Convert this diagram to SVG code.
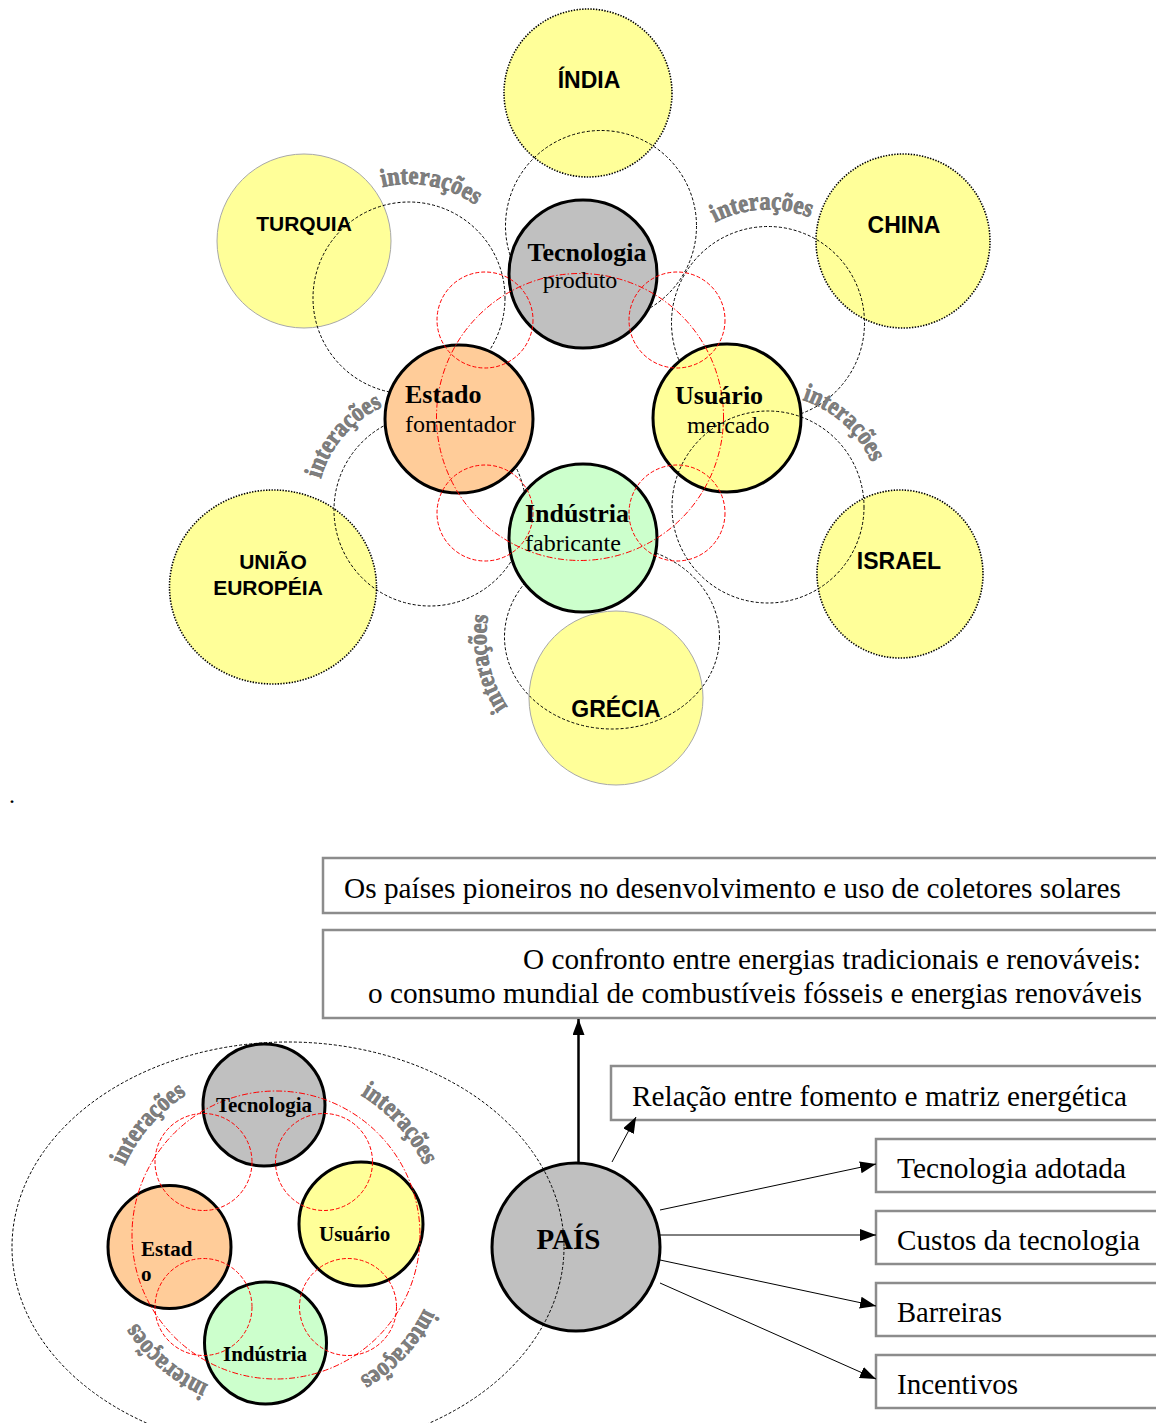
<svg xmlns="http://www.w3.org/2000/svg" width="1156" height="1423" viewBox="0 0 1156 1423">
<style>
.yc{fill:#FFFF99}
.dotb{stroke:#000;stroke-width:1.6;stroke-dasharray:1.4 1.4}
.thin{stroke:#a8a8a8;stroke-width:1}
.dash{fill:none;stroke:#000;stroke-width:1;stroke-dasharray:3 2}
.rd{fill:none;stroke:#ff0000;stroke-width:1;stroke-dasharray:4 2}
.rdd{fill:none;stroke:#ff0000;stroke-width:1;stroke-dasharray:6 2 1.5 2}
.main{stroke:#000;stroke-width:3}
.inter{font-family:"Liberation Serif",serif;font-weight:bold;font-size:26px;fill:#808080;stroke:#6e6e6e;stroke-width:0.7}
.cl{font-family:"Liberation Sans",Arial,sans-serif;font-weight:bold;text-anchor:middle;fill:#000}
.nb{font-family:"Liberation Serif",serif;font-weight:bold;font-size:26px;fill:#000}
.nr{font-family:"Liberation Serif",serif;font-size:24px;fill:#000}
.sb{font-family:"Liberation Serif",serif;font-weight:bold;font-size:21px;fill:#000}
.box{fill:#fff;stroke:#8c8c8c;stroke-width:2.5}
.bt{font-family:"Liberation Serif",serif;font-size:29px;fill:#000}
.con{stroke:#000;stroke-width:1;fill:none}
</style>
<defs>
<marker id="arr" viewBox="0 0 16 12" refX="16" refY="6" markerWidth="16" markerHeight="12" markerUnits="userSpaceOnUse" orient="auto">
<path d="M0,0 L16,6 L0,12 z" fill="#000"/>
</marker>
<path id="p1" d="M323.8,223.0 A113.5,113.5 0 0 1 516.6,260.0"/>
<path id="p2" d="M666.8,271.5 A113.5,113.5 0 0 1 863.2,261.2"/>
<path id="p3" d="M733.6,400.0 A112.5,112.5 0 0 1 878.0,530.8"/>
<path id="p4" d="M322.9,547.7 A113.5,113.5 0 0 1 450.9,398.4"/>
<path id="p5" d="M573.3,756.4 A125.5,125.5 0 0 1 528.0,543.7"/>
<path id="q1" d="M111.6,1261.1 A166.5,166.5 0 0 1 278.9,1068.5"/>
<path id="q2" d="M242.0,1075.1 A163.5,163.5 0 0 1 431.5,1285.5"/>
<path id="q3" d="M434.3,1186.6 A165.5,165.5 0 0 1 238.8,1396.3"/>
<path id="q4" d="M329.5,1390.6 A164.5,164.5 0 0 1 114.5,1203.6"/>
</defs>
<rect width="1156" height="1423" fill="#fff"/>

<!-- top diagram: countries -->
<g id="india"><ellipse class="yc dotb" cx="588" cy="93" rx="84" ry="84"/></g>
<g id="turquia"><ellipse class="yc thin" cx="304" cy="241" rx="87" ry="87"/></g>
<g id="china"><ellipse class="yc dotb" cx="903" cy="241" rx="87" ry="87"/></g>
<g id="uniao-europeia"><ellipse class="yc dotb" cx="273" cy="587" rx="103.5" ry="97"/></g>
<g id="israel"><ellipse class="yc dotb" cx="900" cy="574" rx="83" ry="84"/></g>
<g id="grecia"><ellipse class="yc thin" cx="616" cy="698" rx="87" ry="87"/></g>

<g id="interaction-rings">
<circle class="dash" cx="601" cy="226" r="95.5"/>
<circle class="dash" cx="409" cy="298" r="96"/>
<circle class="dash" cx="768" cy="323" r="96.5"/>
<circle class="dash" cx="430" cy="510" r="96"/>
<ellipse class="dash" cx="612" cy="637" rx="107.5" ry="92"/>
</g>

<g id="tecnologia"><circle class="main" cx="583" cy="274" r="74" fill="#C0C0C0"/></g>
<g id="estado"><circle class="main" cx="459" cy="419" r="74" fill="#FFCC99"/></g>
<g id="usuario"><circle class="main" cx="727" cy="418" r="74" fill="#FFFF99"/></g>
<g id="industria"><circle class="main" cx="583" cy="538" r="74" fill="#CCFFCC"/></g>
<g id="ring-israel"><circle class="dash" cx="768" cy="507" r="96"/></g>

<g id="red-rings-top">
<circle class="rd" cx="485" cy="320" r="48"/>
<circle class="rd" cx="677" cy="320" r="48"/>
<circle class="rd" cx="485" cy="513" r="48"/>
<circle class="rd" cx="677" cy="513" r="48"/>
<circle class="rdd" cx="580" cy="417" r="143.5"/>
</g>

<g id="top-labels">
<text class="cl" x="589" y="88" font-size="23">ÍNDIA</text>
<text class="cl" x="304" y="231" font-size="21">TURQUIA</text>
<text class="cl" x="904" y="233" font-size="23">CHINA</text>
<text class="cl" x="273" y="569" font-size="21">UNIÃO</text>
<text class="cl" x="268" y="595" font-size="21">EUROPÉIA</text>
<text class="cl" x="899" y="569" font-size="23">ISRAEL</text>
<text class="cl" x="616" y="717" font-size="23">GRÉCIA</text>
<text class="nb" x="587" y="261" text-anchor="middle">Tecnologia</text>
<text class="nr" x="580" y="288" text-anchor="middle">produto</text>
<text class="nb" x="405" y="403">Estado</text>
<text class="nr" x="405" y="432">fomentador</text>
<text class="nb" x="675" y="404">Usuário</text>
<text class="nr" x="687" y="433">mercado</text>
<text class="nb" x="525" y="522">Indústria</text>
<text class="nr" x="525" y="551">fabricante</text>
</g>

<g id="top-interacoes">
<text class="inter"><textPath href="#p1" startOffset="50%" text-anchor="middle" textLength="98" lengthAdjust="spacingAndGlyphs">interações</textPath></text>
<text class="inter"><textPath href="#p2" startOffset="50%" text-anchor="middle" textLength="98" lengthAdjust="spacingAndGlyphs">interações</textPath></text>
<text class="inter"><textPath href="#p3" startOffset="50%" text-anchor="middle" textLength="96" lengthAdjust="spacingAndGlyphs">interações</textPath></text>
<text class="inter"><textPath href="#p4" startOffset="50%" text-anchor="middle" textLength="98" lengthAdjust="spacingAndGlyphs">interações</textPath></text>
<text class="inter"><textPath href="#p5" startOffset="50%" text-anchor="middle" textLength="96" lengthAdjust="spacingAndGlyphs">interações</textPath></text>
</g>

<text x="9" y="803" font-family="Liberation Serif, serif" font-size="24">.</text>

<!-- bottom diagram -->
<g id="b-tecnologia"><circle class="main" cx="264" cy="1105" r="61" fill="#C0C0C0"/></g>
<g id="b-usuario"><circle class="main" cx="361" cy="1224" r="62" fill="#FFFF99"/></g>
<g id="b-estado"><circle class="main" cx="169.5" cy="1247" r="61.5" fill="#FFCC99"/></g>
<g id="b-industria"><circle class="main" cx="265.5" cy="1343" r="61" fill="#CCFFCC"/></g>

<g id="red-rings-bottom">
<circle class="rd" cx="203.5" cy="1162" r="48.5"/>
<circle class="rd" cx="324" cy="1162" r="48.5"/>
<circle class="rd" cx="203.5" cy="1307" r="48.5"/>
<circle class="rd" cx="348" cy="1307" r="48.5"/>
<circle class="rdd" cx="276" cy="1235" r="144"/>
</g>

<g id="bottom-labels">
<text class="sb" x="264" y="1112" text-anchor="middle">Tecnologia</text>
<text class="sb" x="319" y="1241">Usuário</text>
<text class="sb" x="141" y="1256">Estad</text>
<text class="sb" x="141" y="1281">o</text>
<text class="sb" x="223" y="1361">Indústria</text>
</g>

<g id="bottom-interacoes">
<text class="inter"><textPath href="#q1" startOffset="50%" text-anchor="middle" textLength="96" lengthAdjust="spacingAndGlyphs">interações</textPath></text>
<text class="inter"><textPath href="#q2" startOffset="50%" text-anchor="middle" textLength="96" lengthAdjust="spacingAndGlyphs">interações</textPath></text>
<text class="inter"><textPath href="#q3" startOffset="50%" text-anchor="middle" textLength="96" lengthAdjust="spacingAndGlyphs">interações</textPath></text>
<text class="inter"><textPath href="#q4" startOffset="50%" text-anchor="middle" textLength="96" lengthAdjust="spacingAndGlyphs">interações</textPath></text>
</g>

<g id="pais">
<ellipse class="main" cx="576" cy="1247" rx="84" ry="84" fill="#C0C0C0"/>
</g>
<g id="country-system"><ellipse class="dash" cx="288" cy="1247" rx="276" ry="205" stroke-dasharray="2 2"/></g>
<text x="568.5" y="1249" text-anchor="middle" font-family="Liberation Serif, serif" font-weight="bold" font-size="29">PAÍS</text>

<g id="box-pioneiros">
<rect class="box" x="323" y="858" width="850" height="55"/>
<text class="bt" x="344" y="898" textLength="777" lengthAdjust="spacingAndGlyphs">Os países pioneiros no desenvolvimento e uso de coletores solares</text>
</g>
<g id="box-confronto">
<rect class="box" x="323" y="930" width="850" height="88"/>
<text class="bt" x="523" y="969" textLength="618" lengthAdjust="spacingAndGlyphs">O confronto entre energias tradicionais e renováveis:</text>
<text class="bt" x="368" y="1003" textLength="774" lengthAdjust="spacingAndGlyphs">o consumo mundial de combustíveis fósseis e energias renováveis</text>
</g>
<g id="box-fomento">
<rect class="box" x="611" y="1066" width="560" height="54"/>
<text class="bt" x="632" y="1106" textLength="495" lengthAdjust="spacingAndGlyphs">Relação entre fomento e matriz energética</text>
</g>
<g id="box-tecnologia">
<rect class="box" x="876" y="1139" width="300" height="53"/>
<text class="bt" x="897" y="1178" textLength="229" lengthAdjust="spacingAndGlyphs">Tecnologia adotada</text>
</g>
<g id="box-custos">
<rect class="box" x="876" y="1211" width="300" height="53"/>
<text class="bt" x="897" y="1250" textLength="243" lengthAdjust="spacingAndGlyphs">Custos da tecnologia</text>
</g>
<g id="box-barreiras">
<rect class="box" x="876" y="1283" width="300" height="53"/>
<text class="bt" x="897" y="1322" textLength="105" lengthAdjust="spacingAndGlyphs">Barreiras</text>
</g>
<g id="box-incentivos">
<rect class="box" x="876" y="1355" width="300" height="53"/>
<text class="bt" x="897" y="1394" textLength="121" lengthAdjust="spacingAndGlyphs">Incentivos</text>
</g>

<g id="connectors">
<line x1="578.5" y1="1163" x2="578.5" y2="1019" stroke="#000" stroke-width="2.5" marker-end="url(#arr)"/>
<line class="con" x1="612" y1="1162" x2="636" y2="1117" marker-end="url(#arr)"/>
<line class="con" x1="660" y1="1210" x2="876" y2="1164" marker-end="url(#arr)"/>
<line class="con" x1="660" y1="1235" x2="876" y2="1235" marker-end="url(#arr)"/>
<line class="con" x1="660" y1="1260" x2="876" y2="1306" marker-end="url(#arr)"/>
<line class="con" x1="660" y1="1283" x2="876" y2="1379" marker-end="url(#arr)"/>
</g>
</svg>
